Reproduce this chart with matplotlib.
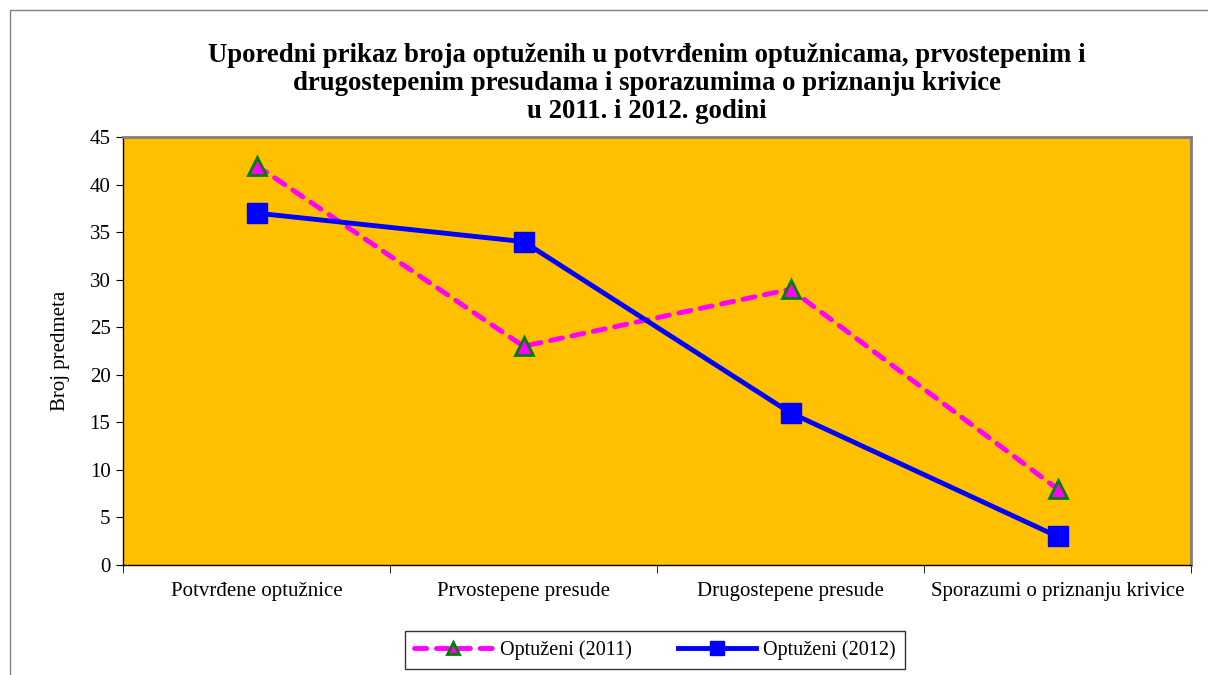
import matplotlib
matplotlib.use("Agg")
import matplotlib.pyplot as plt
import numpy as np
from matplotlib.patches import Rectangle

categories = [
    "Potvrđene optužnice",
    "Prvostepene presude",
    "Drugostepene presude",
    "Sporazumi o priznanju krivice",
]
accused_2011 = [42, 23, 29, 8]
accused_2012 = [37, 34, 16, 3]
y_ticks = [0, 5, 10, 15, 20, 25, 30, 35, 40, 45]

title = ("Uporedni prikaz broja optuženih u potvrđenim optužnicama, prvostepenim i\n"
         "drugostepenim presudama i sporazumima o priznanju krivice\n"
         "u 2011. i 2012. godini")

plt.rcParams["font.family"] = ["Liberation Serif", "DejaVu Serif"]

fig = plt.figure(figsize=(12.08, 6.75), dpi=100)
fig.patches.append(Rectangle((10 / 1208, -0.1), 1.2, 1 - 10 / 675 + 0.1,
                             transform=fig.transFigure, fill=False,
                             edgecolor="#808080", linewidth=1))

ax = fig.add_axes([123 / 1208, 1 - 565 / 675, (1191 - 123) / 1208, (565 - 137) / 675])
ax.set_facecolor("#FFC000")

x = np.arange(len(categories))
ax.plot(x, accused_2011, color="#FF00FF", linewidth=3.5, linestyle=(0, (2.5, 2.0)),
        dash_capstyle="round", marker="^", markersize=13, markerfacecolor="#FF00FF",
        markeredgecolor="#008000", markeredgewidth=2, label="Optuženi (2011)", zorder=3)
ax.plot(x, accused_2012, color="#0000FF", linewidth=3.5, marker="s", markersize=14,
        markerfacecolor="#0000FF", markeredgecolor="#0000FF",
        label="Optuženi (2012)", zorder=4)

ax.set_xlim(-0.5, len(categories) - 0.5)
ax.set_ylim(0, 45)
ax.set_yticks(y_ticks)
ax.tick_params(axis="y", direction="out", length=5, labelsize=15, pad=4)
ax.set_xticks(x)
ax.set_xticklabels(categories, fontsize=15)
ax.tick_params(axis="x", which="major", length=0, pad=12)
ax.set_xticks(np.arange(-0.5, len(categories)), minor=True)
ax.tick_params(axis="x", which="minor", direction="out", length=6)
ax.set_ylabel("Broj predmeta", fontsize=15, labelpad=14)

for side in ["top", "right"]:
    ax.spines[side].set_color("#808080")
    ax.spines[side].set_linewidth(2)
for side in ["left", "bottom"]:
    ax.spines[side].set_color("#000000")
    ax.spines[side].set_linewidth(1)

fig.text(647 / 1208, 1 - 43 / 675, title, ha="center", va="top", fontsize=19.3,
         fontweight="bold", linespacing=1.17)

leg = ax.legend(loc="center", bbox_to_anchor=(655 / 1208, 1 - 650 / 675),
                bbox_transform=fig.transFigure, ncol=2, fontsize=14.5,
                frameon=True, fancybox=False, edgecolor="#000000", markerscale=0.7,
                handlelength=3.9, columnspacing=2.3, borderpad=0.45, handletextpad=0.35)
leg.get_frame().set_linewidth(1)

fig.savefig("out.png", dpi=100)
